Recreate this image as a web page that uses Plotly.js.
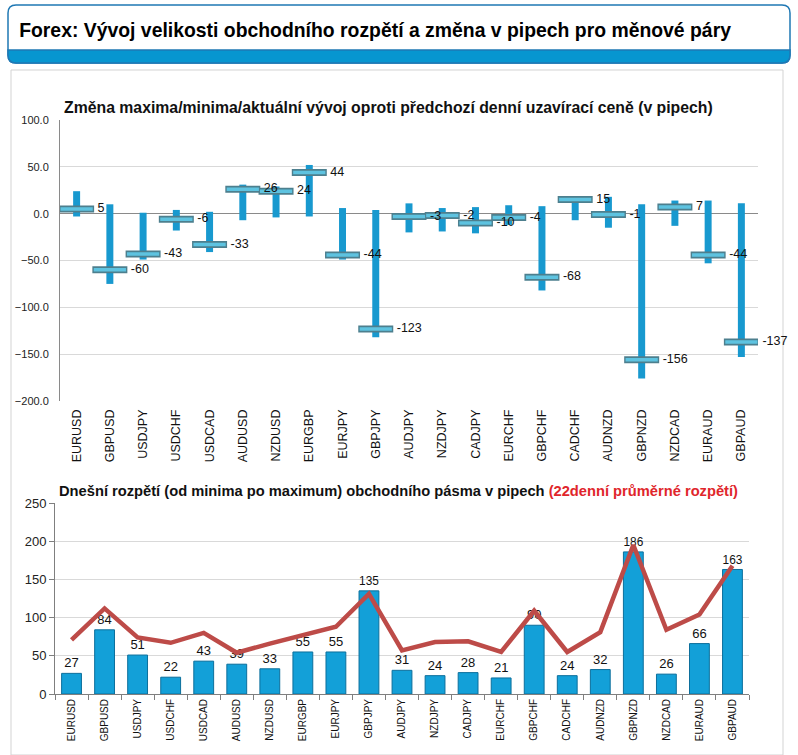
<!DOCTYPE html>
<html><head><meta charset="utf-8">
<script src="https://cdn.plot.ly/plotly-3.0.1.min.js"></script>
<style>html,body{margin:0;padding:0;background:#fff;}#chart{width:798px;height:755px;}</style>
</head><body><div id="chart"></div>
<script>
// ---- data ----
const pairs = ["EURUSD","GBPUSD","USDJPY","USDCHF","USDCAD","AUDUSD","NZDUSD","EURGBP","EURJPY","GBPJPY","AUDJPY","NZDJPY","CADJPY","EURCHF","GBPCHF","CADCHF","AUDNZD","GBPNZD","NZDCAD","EURAUD","GBPAUD"];
const dayHigh = [24, 10, 1, 4, 2, 31, 29, 52, 6, 4, 11, 6, 7, 9, 8, 16, 18, 10, 14, 14, 11];
const dayLow = [-3, -75, -49, -18, -41, -7, -4, -3, -49, -132, -20, -19, -21, -12, -82, -7, -15, -176, -13, -53, -153];
const current = [5, -60, -43, -6, -33, 26, 24, 44, -44, -123, -3, -2, -10, -4, -68, 15, -1, -156, 7, -44, -137];
const todayRange = [27, 84, 51, 22, 43, 39, 33, 55, 55, 135, 31, 24, 28, 21, 90, 24, 32, 186, 26, 66, 163];
const avg22 = [71, 112, 74, 67, 80, 54, 66, 77, 88, 131, 57, 68, 69, 55, 109, 55, 81, 195, 84, 104, 168];
const topTickVals = [-200, -150, -100, -50, 0, 50, 100];
const bottomTickVals = [0, 50, 100, 150, 200, 250];

// ---- helpers (page px -> paper) ----
const W = 798, H = 755;
const px = x => x / W;
const py = y => 1 - y / H;

const font = "Liberation Sans, Arial, sans-serif";

const traces = [
  { type: "bar", x: pairs, base: dayLow, y: dayHigh.map((h, i) => h - dayLow[i]),
    width: 0.21, marker: { color: "#1899cf" }, xaxis: "x", yaxis: "y", hoverinfo: "skip", showlegend: false },
  { type: "scatter", mode: "markers", x: pairs, y: current,
    marker: { symbol: "line-ew", size: 25, line: { width: 7, color: "#4d7f8e" } },
    xaxis: "x", yaxis: "y", hoverinfo: "skip", showlegend: false },
  { type: "scatter", mode: "markers", x: pairs, y: current,
    marker: { symbol: "line-ew", size: 23, line: { width: 3.5, color: "#5ec3e0" } },
    xaxis: "x", yaxis: "y", hoverinfo: "skip", showlegend: false },
  { type: "scatter", mode: "markers+text", x: pairs, y: current, text: current.map(String),
    textposition: "middle right", textfont: { family: font, size: 12.5, color: "#111" },
    marker: { size: 32, color: "rgba(0,0,0,0)", line: { width: 0 } },
    xaxis: "x", yaxis: "y", hoverinfo: "skip", showlegend: false, cliponaxis: false },
  { type: "bar", x: pairs, y: todayRange, text: todayRange.map(String), textposition: "outside",
    textfont: { family: font, size: 13, color: "#111" }, width: 0.6,
    marker: { color: "#13a0d8", line: { color: "#0c6f9c", width: 1 } },
    xaxis: "x2", yaxis: "y2", hoverinfo: "skip", showlegend: false, cliponaxis: false },
  { type: "scatter", mode: "lines", x: pairs, y: avg22,
    line: { color: "#bd4b48", width: 4.5 }, xaxis: "x2", yaxis: "y2", hoverinfo: "skip", showlegend: false }
];

const layout = {
  width: W, height: H, margin: { l: 0, r: 0, t: 0, b: 0 },
  paper_bgcolor: "#fff", plot_bgcolor: "rgba(0,0,0,0)",
  font: { family: font, color: "#222" },
  barmode: "overlay", showlegend: false,
  xaxis: { domain: [px(60), px(758)], anchor: "y", type: "category", tickangle: -90,
    tickfont: { family: font, size: 12.5, color: "#111" }, showgrid: false, showline: false,
    ticks: "", range: [-0.5, 20.5], ticklabelstandoff: 5 },
  yaxis: { domain: [py(401), py(120)], anchor: "x", range: [-200, 100], tickvals: topTickVals,
    tickformat: ".1f", tickfont: { family: font, size: 11, color: "#222" },
    showgrid: true, gridcolor: "#d9d9d9", gridwidth: 1, zeroline: true, zerolinecolor: "#8a8a8a", zerolinewidth: 1,
    showline: true, linecolor: "#8a8a8a", linewidth: 1, ticks: "", ticklabelstandoff: 8 },
  xaxis2: { domain: [px(55), px(749)], anchor: "y2", type: "category", tickangle: -90,
    tickfont: { family: font, size: 10, color: "#111" }, showgrid: false, showline: true,
    linecolor: "#7f7f7f", linewidth: 1, ticks: "outside", tickson: "boundaries", ticklen: 5,
    tickcolor: "#7f7f7f", range: [-0.5, 20.5] },
  yaxis2: { domain: [py(694), py(503)], anchor: "x2", range: [0, 250], tickvals: bottomTickVals,
    tickfont: { family: font, size: 13, color: "#222" }, showgrid: true, gridcolor: "#d9d9d9",
    zeroline: false, showline: true, linecolor: "#7f7f7f", linewidth: 1, ticks: "outside", ticklen: 5, tickcolor: "#7f7f7f" },
  shapes: [
    { type: "rect", xref: "paper", yref: "paper", x0: px(11), x1: px(783), y0: py(755), y1: py(70),
      line: { color: "#d3d3d3", width: 1 }, fillcolor: "rgba(0,0,0,0)", layer: "below" },
    { type: "path", xref: "paper", yref: "paper", layer: "above",
      path: `M ${px(16)} ${py(5)} L ${px(782)} ${py(5)} Q ${px(790)} ${py(5)} ${px(790)} ${py(13)} L ${px(790)} ${py(55)} Q ${px(790)} ${py(63)} ${px(782)} ${py(63)} L ${px(16)} ${py(63)} Q ${px(8)} ${py(63)} ${px(8)} ${py(55)} L ${px(8)} ${py(13)} Q ${px(8)} ${py(5)} ${px(16)} ${py(5)} Z`,
      fillcolor: "#ffffff", line: { color: "#1f78b4", width: 1.5 } },
    { type: "path", xref: "paper", yref: "paper", layer: "above",
      path: `M ${px(8)} ${py(50)} L ${px(790)} ${py(50)} L ${px(790)} ${py(55)} Q ${px(790)} ${py(63)} ${px(782)} ${py(63)} L ${px(16)} ${py(63)} Q ${px(8)} ${py(63)} ${px(8)} ${py(55)} Z`,
      fillcolor: "#0796d0", line: { color: "#1f78b4", width: 1.5 } }
  ],
  annotations: [
    { xref: "paper", yref: "paper", x: px(17), y: py(30), xanchor: "left", yanchor: "middle", showarrow: false,
      text: "<b>Forex: Vývoj velikosti obchodního rozpětí a změna v pipech pro měnové páry</b>",
      font: { family: font, size: 20, color: "#000" } },
    { xref: "paper", yref: "paper", x: px(62), y: py(107), xanchor: "left", yanchor: "middle", showarrow: false,
      text: "<b>Změna maxima/minima/aktuální vývoj oproti předchozí denní uzavírací ceně (v pipech)</b>",
      font: { family: font, size: 15.8, color: "#111" } },
    { xref: "paper", yref: "paper", x: px(57), y: py(491), xanchor: "left", yanchor: "middle", showarrow: false,
      text: "<b>Dnešní rozpětí (od minima po maximum) obchodního pásma v pipech <span style='color:#e0262b'>(22denní průměrné rozpětí)</span></b>",
      font: { family: font, size: 14.7, color: "#111" } }
  ]
};

Plotly.newPlot("chart", traces, layout, { staticPlot: true, displayModeBar: false }).then(gd => {
  // condense the header title (narrow font in the original)
  const t = gd.querySelector('.annotation[data-index="0"] text');
  if (t) {
    const bb = t.getBBox();
    const target = 713;
    const sx = target / bb.width;
    if (sx < 1) t.setAttribute("transform", `translate(${bb.x * (1 - sx)},0) scale(${sx},1)`);
  }
});
</script>
</body></html>
